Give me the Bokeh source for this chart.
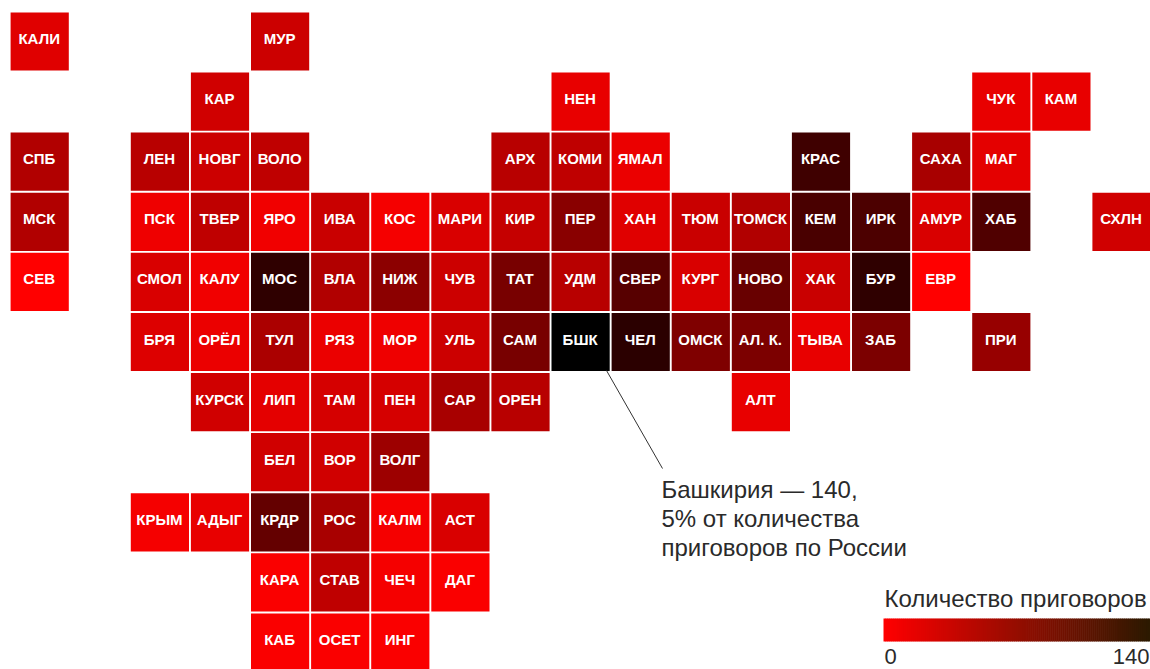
from bokeh.plotting import figure
from bokeh.models import ColumnDataSource, LinearColorMapper, Range1d
from bokeh.core.properties import value
from bokeh.embed import file_html
from bokeh.resources import INLINE
import numpy as np

labels = ["КАЛИ","МУР",
 "КАР","НЕН","ЧУК","КАМ",
 "СПБ","ЛЕН","НОВГ","ВОЛО","АРХ","КОМИ","ЯМАЛ","КРАС","САХА","МАГ",
 "МСК","ПСК","ТВЕР","ЯРО","ИВА","КОС","МАРИ","КИР","ПЕР","ХАН","ТЮМ","ТОМСК","КЕМ","ИРК","АМУР","ХАБ","СХЛН",
 "СЕВ","СМОЛ","КАЛУ","МОС","ВЛА","НИЖ","ЧУВ","ТАТ","УДМ","СВЕР","КУРГ","НОВО","ХАК","БУР","ЕВР",
 "БРЯ","ОРЁЛ","ТУЛ","РЯЗ","МОР","УЛЬ","САМ","БШК","ЧЕЛ","ОМСК","АЛ. К.","ТЫВА","ЗАБ","ПРИ",
 "КУРСК","ЛИП","ТАМ","ПЕН","САР","ОРЕН","АЛТ",
 "БЕЛ","ВОР","ВОЛГ",
 "КРЫМ","АДЫГ","КРДР","РОС","КАЛМ","АСТ",
 "КАРА","СТАВ","ЧЕЧ","ДАГ",
 "КАБ","ОСЕТ","ИНГ"]
cols = [0,4,
 3,9,16,17,
 0,2,3,4,8,9,10,13,15,16,
 0,2,3,4,5,6,7,8,9,10,11,12,13,14,15,16,18,
 0,2,3,4,5,6,7,8,9,10,11,12,13,14,15,
 2,3,4,5,6,7,8,9,10,11,12,13,14,16,
 3,4,5,6,7,8,12,
 4,5,6,
 2,3,4,5,6,7,
 4,5,6,7,
 4,5,6]
rows = [0,0,
 1,1,1,1,
 2,2,2,2,2,2,2,2,2,2,
 3,3,3,3,3,3,3,3,3,3,3,3,3,3,3,3,3,
 4,4,4,4,4,4,4,4,4,4,4,4,4,4,4,
 5,5,5,5,5,5,5,5,5,5,5,5,5,5,
 6,6,6,6,6,6,6,
 7,7,7,
 8,8,8,8,8,8,
 9,9,9,9,
 10,10,10]
values = [17,28,
 26,13,13,13,
 43,39,28,35,39,35,11,105,48,15,
 43,9,35,8,30,6,21,32,65,17,30,43,100,98,21,96,26,
 0,21,8,114,43,63,28,74,39,92,21,83,30,114,0,
 19,11,46,11,9,28,74,140,116,70,72,13,72,57,
 26,15,23,23,48,39,13,
 26,26,54,
 6,13,85,48,6,21,
 3,35,6,3,
 3,3,3]
note_lines = ["Башкирия — 140,", "5% от количества", "приговоров по России"]
legend_title = "Количество приговоров"
legend_ticks = ["0", "140"]

X0, Y0, PITCH, SIZE = 39.2, 41.0, 60.1, 58.2
W, H = 1150, 669

p = figure(width=W, height=H, x_range=Range1d(0, W), y_range=Range1d(H, 0),
           output_backend="svg", toolbar_location=None, min_border=0,
           x_axis_type=None, y_axis_type=None, outline_line_color=None,
           background_fill_color="white", border_fill_color="white")
p.grid.visible = False

palette = ["#%02x0000" % r for r in range(255, -1, -1)]
mapper = LinearColorMapper(palette=palette, low=0, high=140)
src = ColumnDataSource(dict(
    x=[X0 + c * PITCH for c in cols],
    y=[Y0 + r * PITCH for r in rows],
    v=values, t=labels))
p.rect("x", "y", width=SIZE, height=SIZE, source=src,
       fill_color={"field": "v", "transform": mapper}, line_color=None)
p.text("x", "y", text="t", source=src, text_color="white", y_offset=-3, x_offset=-0.5,
       text_font=value("Liberation Sans"), text_font_style="bold", text_font_size="15px",
       text_align="center", text_baseline="middle")

# callout
p.line([606, 662], [370, 468], line_color="#333333", line_width=1)
p.text([661] * 3, [489, 518, 547], text=note_lines, text_color="#2a2a2a",
       text_font=value("Liberation Sans"), text_font_size="24px",
       text_align="left", text_baseline="middle")

# colour legend
n = 133
lx = np.linspace(883, 1150, n + 1)
f = np.linspace(0, 1, n)
grad = ["#%02x%02x%02x" % (int(255 + (44 - 255) * t), int(26 * t), 0) for t in f]
p.quad(left=lx[:-1], right=lx[1:] + 0.6, top=618, bottom=641, fill_color=grad, line_color=None)
p.text([884], [598], text=[legend_title], text_color="#2a2a2a", text_font=value("Liberation Sans"),
       text_font_size="24px", text_align="left", text_baseline="middle")
p.text([884], [656], text=[legend_ticks[0]], text_color="#2a2a2a", text_font=value("Liberation Sans"),
       text_font_size="22px", text_align="left", text_baseline="middle")
p.text([1149], [656], text=[legend_ticks[1]], text_color="#2a2a2a", text_font=value("Liberation Sans"),
       text_font_size="22px", text_align="right", text_baseline="middle")

open("out.html", "w").write(file_html(p, INLINE))
